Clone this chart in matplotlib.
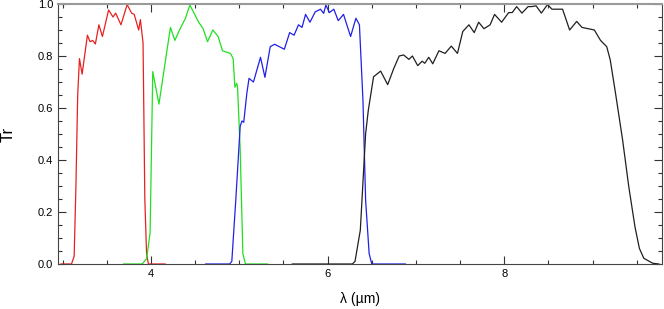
import matplotlib
matplotlib.use("Agg")
import matplotlib.pyplot as plt
from matplotlib.ticker import MultipleLocator

plt.rcParams['font.family'] = ['Liberation Sans', 'DejaVu Sans']

# filter transmission curves
red_x = [2.98, 3.10, 3.13, 3.15, 3.17, 3.19, 3.22, 3.28, 3.31, 3.34, 3.37, 3.41, 3.45,
         3.52, 3.57, 3.60, 3.66, 3.73, 3.78, 3.81, 3.86, 3.88, 3.91, 3.93, 3.95, 3.97, 4.16]
red_y = [0.0, 0.0, 0.03, 0.30, 0.65, 0.79, 0.73, 0.88, 0.855, 0.86, 0.846, 0.92, 0.875,
         0.977, 0.95, 0.965, 0.92, 0.998, 0.965, 0.96, 0.90, 0.94, 0.85, 0.25, 0.04, 0.0, 0.0]

green_x = [3.69, 3.90, 3.95, 3.99, 4.02, 4.09, 4.22, 4.27, 4.33, 4.39, 4.44, 4.54, 4.59,
           4.64, 4.70, 4.76, 4.81, 4.90, 4.93, 4.95, 4.97, 4.98, 5.01, 5.04, 5.07, 5.32]
green_y = [0.0, 0.0, 0.02, 0.12, 0.74, 0.615, 0.91, 0.86, 0.905, 0.945, 0.996, 0.93, 0.905,
           0.855, 0.90, 0.875, 0.82, 0.81, 0.79, 0.68, 0.695, 0.68, 0.44, 0.04, 0.0, 0.0]

blue_x = [4.62, 4.89, 4.915, 4.96, 5.01, 5.03, 5.05, 5.085, 5.11, 5.16, 5.24, 5.29, 5.35,
          5.40, 5.51, 5.57, 5.62, 5.67, 5.71, 5.75, 5.80, 5.86, 5.92, 5.955, 5.98, 6.02,
          6.07, 6.12, 6.18, 6.26, 6.32, 6.36, 6.40, 6.43, 6.47, 6.50, 6.88]
blue_y = [0.0, 0.0, 0.01, 0.246, 0.53, 0.55, 0.545, 0.656, 0.714, 0.70, 0.795, 0.718, 0.836,
          0.845, 0.826, 0.89, 0.88, 0.92, 0.91, 0.96, 0.93, 0.97, 0.98, 0.964, 0.996, 0.967,
          0.98, 0.936, 0.96, 0.875, 0.945, 0.92, 0.63, 0.246, 0.04, 0.0, 0.0]

black_x = [5.60, 6.28, 6.31, 6.37, 6.43, 6.46, 6.52, 6.60, 6.68, 6.75, 6.81, 6.86, 6.92,
           6.96, 7.02, 7.07, 7.10, 7.145, 7.19, 7.26, 7.33, 7.40, 7.47, 7.53, 7.60, 7.66,
           7.71, 7.77, 7.84, 7.89, 7.97, 8.05, 8.09, 8.14, 8.20, 8.27, 8.31, 8.36, 8.42,
           8.49, 8.54, 8.61, 8.66, 8.74, 8.82, 8.88, 9.02, 9.09, 9.16, 9.20, 9.26, 9.34,
           9.41, 9.48, 9.53, 9.58, 9.68, 9.75]
black_y = [0.0, 0.0, 0.01, 0.13, 0.50, 0.59, 0.72, 0.742, 0.69, 0.753, 0.80, 0.804, 0.787,
           0.80, 0.763, 0.78, 0.772, 0.795, 0.77, 0.82, 0.81, 0.838, 0.81, 0.894, 0.92, 0.89,
           0.93, 0.905, 0.92, 0.96, 0.93, 0.967, 0.967, 0.99, 0.965, 0.99, 0.99, 0.993, 0.965,
           0.998, 0.98, 0.98, 0.98, 0.90, 0.933, 0.91, 0.90, 0.86, 0.836, 0.785, 0.656, 0.477,
           0.297, 0.143, 0.06, 0.022, 0.003, 0.0]

fig = plt.figure(figsize=(6.64, 3.09), dpi=100)
ax = fig.add_axes([58 / 664, 45 / 309, 604 / 664, 260 / 309])

ax.plot(red_x, red_y, color="#e82020", lw=0.9)
ax.plot(green_x, green_y, color="#20e020", lw=0.9)
ax.plot(blue_x, blue_y, color="#2020e8", lw=0.9)
ax.plot(black_x, black_y, color="#202020", lw=0.9)

ax.set_xlim(2.947, 9.786)
ax.set_ylim(0, 1.0)
ax.xaxis.set_major_locator(MultipleLocator(2))
ax.xaxis.set_minor_locator(MultipleLocator(0.5))
ax.yaxis.set_major_locator(MultipleLocator(0.2))
ax.yaxis.set_minor_locator(MultipleLocator(0.05))
ax.tick_params(which="both", direction="in", top=True, right=True,
               labelsize=8, colors="#333333", labelcolor="black", width=0.8)
ax.tick_params(which="major", length=6)
ax.tick_params(which="minor", length=3)
ax.yaxis.set_major_formatter(matplotlib.ticker.FormatStrFormatter("%.1f"))
for s in ax.spines.values():
    s.set_color("#444444")
    s.set_linewidth(0.8)
ax.spines["top"].set_color("#999999")
ax.spines["top"].set_linewidth(1.5)

ax.set_xlabel("λ (µm)", fontsize=10, va="center")
ax.set_ylabel("Tr", fontsize=12, va="center")
ax.xaxis.set_label_coords(0.5, -0.135)
ax.yaxis.set_label_coords(-0.082, 0.5)

fig.savefig("out.png", dpi=100)
